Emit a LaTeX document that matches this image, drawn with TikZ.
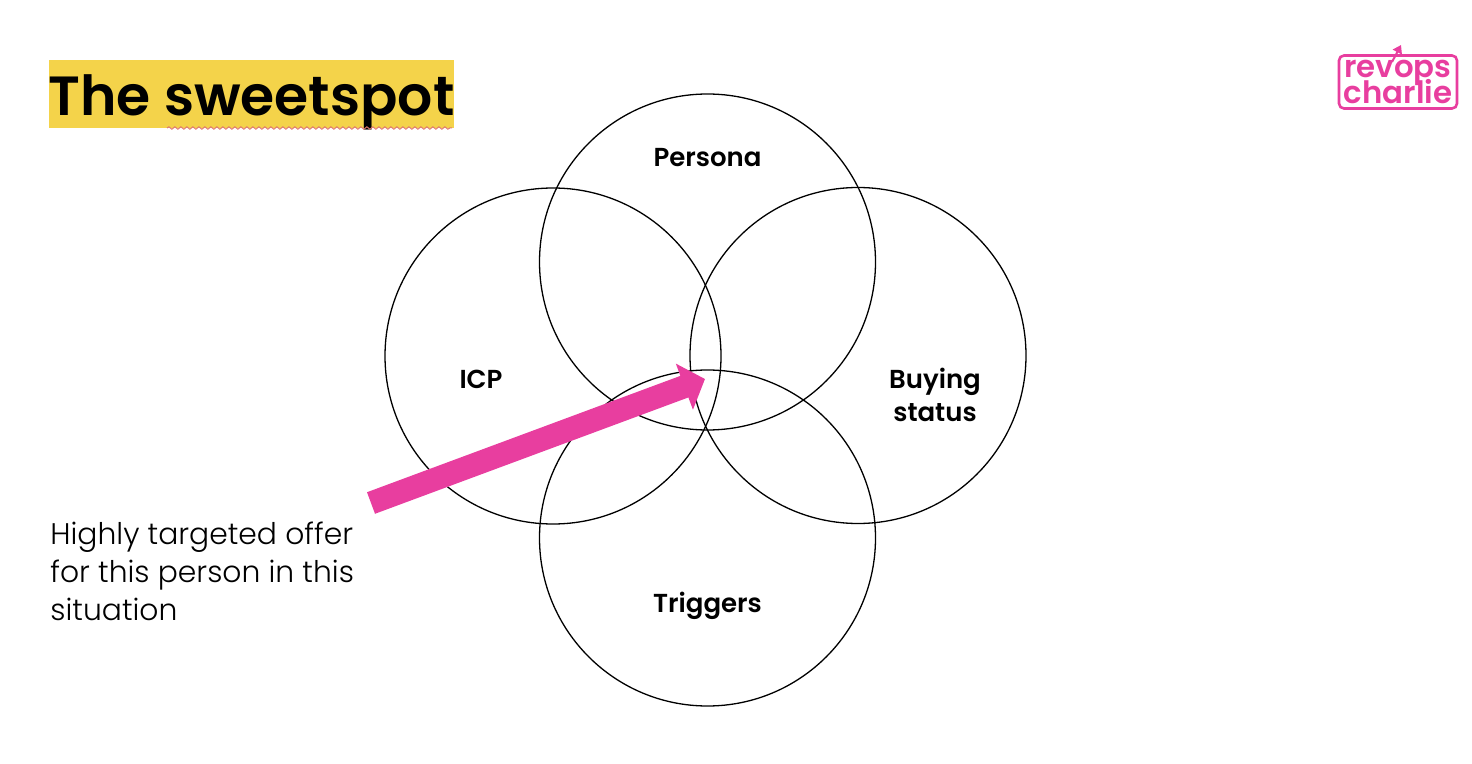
\documentclass[tikz,border=0pt]{standalone}
\usepackage{fontspec}
\setmainfont{Poppins}[BoldFont=*-SemiBold]
\newfontfamily\lightfont{Poppins}[UprightFont=*-Light]
\usepackage{xcolor}
\usetikzlibrary{arrows.meta, positioning, decorations.pathmorphing}
\definecolor{cpink}{HTML}{E83E9F}
\definecolor{cyellow}{HTML}{F4D34A}
\definecolor{cwave}{HTML}{E07A70}

\begin{document}
\begin{tikzpicture}[
  x=0.5pt, y=-0.5pt,
  setcircle/.style={draw, circle, line width=0.65pt, minimum size=168pt, inner sep=0pt},
  setlabel/.style={font=\fontsize{13}{16.5}\selectfont\bfseries, align=center, inner sep=0pt},
  arr/.style={-{Triangle[length=11pt, width=24pt]}, line width=11.5pt, draw=cpink},
  ]
\useasboundingbox (0,0) rectangle (1472,764);
% title
\node[fill=cyellow, minimum width=201.5pt, text height=28pt, text depth=6pt, inner sep=0pt,
      font=\fontsize{27.6}{30}\selectfont\bfseries] (title) at (251.5,94) {The sweetspot};
\coordinate (waveL) at (167,128);
\coordinate (waveR) at (452,128);
\draw[cwave, line width=0.5pt, decorate, decoration={snake, amplitude=0.6pt, segment length=3pt}] (waveL) -- (waveR);
% logo
\node[draw=cpink, line width=1.3pt, rounded corners=2.5pt, minimum width=59pt, minimum height=26.5pt,
      inner sep=0pt, align=center, text=cpink,
      font=\fontsize{15.4}{16}\selectfont\bfseries] (logo) at (1398,82) {revops\\[-4pt]charlie};
\coordinate (logoA) at (1392,62);
\coordinate (logoB) at (1401,45);
\draw[cpink, line width=1pt, -{Triangle[length=4pt, width=5pt]}] (logoA) -- (logoB);
% circles
\node[setcircle] (persona) at (707.5,262) {};
\node[setcircle] (icp) at (553,356) {};
\node[setcircle] (buying) at (858,355.5) {};
\node[setcircle] (triggers) at (707.5,538) {};
\node[setlabel] (lpersona) at (707.5,158) {Persona};
\node[setlabel] (licp) at (481,379) {ICP};
\node[setlabel] (lbuying) at (935,395) {Buying\\status};
\node[setlabel] (ltriggers) at (707.5,606) {Triggers};
% arrow
\node[font=\lightfont\fontsize{14.9}{19}\selectfont, align=left, inner sep=0pt, anchor=north west] (offer) at (50,522)
  {Highly targeted offer\\for this person in this\\situation};
\coordinate (arrS) at (371,503);
\coordinate (arrE) at (705,379);
\draw[arr] (arrS) -- (arrE);
\end{tikzpicture}
\end{document}
